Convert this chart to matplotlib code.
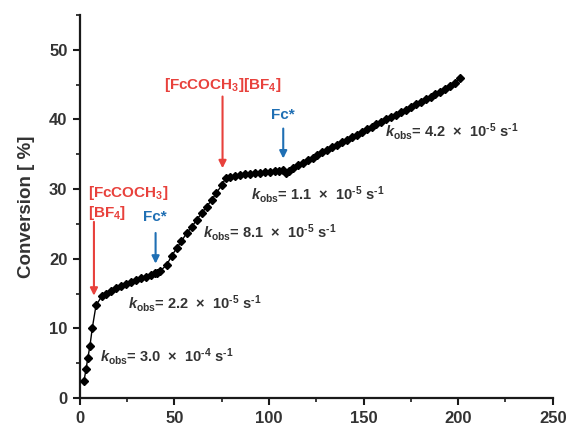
import matplotlib
matplotlib.use("Agg")
import matplotlib.pyplot as plt
from matplotlib.ticker import MultipleLocator

plt.rcParams['font.family'] = ['Liberation Sans', 'DejaVu Sans']
plt.rcParams['mathtext.fontset'] = 'custom'
plt.rcParams['mathtext.rm'] = 'Liberation Sans:bold'
plt.rcParams['mathtext.bf'] = 'Liberation Sans:bold'
plt.rcParams['mathtext.it'] = 'Liberation Sans:bold:italic'

# ---- data ----
time = [2.1, 3.2, 4.2, 5.3, 6.5, 8.5,
        11.5, 14.0, 16.6, 19.2, 21.8, 24.4, 27.0, 29.6, 32.2, 34.8, 37.4, 39.6, 41.0, 42.3,
        45.8, 48.5, 51.1, 53.7, 56.4, 59.0, 61.7, 64.3, 67.0, 69.6, 72.2, 75.2, 77.0,
        79.6, 82.2, 84.8, 87.4, 90.0, 92.6, 95.2, 97.8, 100.4, 103.0, 105.4, 107.5,
        109.0, 110.6,
        112.5, 115.2, 117.8, 120.4, 123.0, 125.6, 128.2, 130.8, 133.4, 136.0, 138.6,
        141.2, 143.8, 146.4, 149.0, 151.6, 154.2, 156.8, 159.4, 162.0, 164.6, 167.2,
        169.8, 172.4, 175.0, 177.6, 180.2, 182.8, 185.4, 188.0, 190.6, 193.2, 195.8,
        198.4, 200.8]
conversion = [2.4, 4.1, 5.8, 7.5, 10.0, 13.3,
              14.6, 15.0, 15.4, 15.8, 16.1, 16.4, 16.7, 16.9, 17.2, 17.4, 17.7, 17.9, 18.0, 18.2,
              19.1, 20.4, 21.5, 22.5, 23.7, 24.5, 25.6, 26.5, 27.5, 28.4, 29.5, 30.6, 31.6,
              31.8, 31.9, 32.0, 32.1, 32.2, 32.3, 32.35, 32.4, 32.5, 32.55, 32.6, 32.7,
              32.3, 32.6,
              33.0, 33.4, 33.8, 34.2, 34.5, 34.9, 35.3, 35.6, 36.0, 36.4, 36.7,
              37.1, 37.5, 37.8, 38.2, 38.6, 38.9, 39.3, 39.6, 40.0, 40.4, 40.7,
              41.1, 41.4, 41.8, 42.2, 42.5, 42.9, 43.3, 43.6, 44.0, 44.4, 44.8,
              45.3, 45.9]

x_ticks = [0, 50, 100, 150, 200, 250]
y_ticks = [0, 10, 20, 30, 40, 50]

def kobs(val, exp):
    return (r"$k_{\mathrm{obs}}$= " + val + "  ×  10$^{\\mathrm{\\text{-" + exp +
            "}}}$ s$^{\\mathrm{\\text{-1}}}$")

kobs_labels = [
    (10.6, 5.9, kobs("3.0", "4")),
    (25.5, 13.6, kobs("2.2", "5")),
    (65.2, 23.7, kobs("8.1", "5")),
    (90.7, 29.2, kobs("1.1", "5")),
    (161.2, 38.3, kobs("4.2", "5")),
]

red = '#e8413c'
blue = '#1f6fb4'
gray = '#333333'

fig = plt.figure(figsize=(5.71, 4.30), dpi=100)
ax = fig.add_axes([0.140, 0.0744, 0.828, 0.8906])

ax.plot(time, conversion, color='black', lw=1.0, marker='D', ms=4.0,
        markerfacecolor='black', markeredgecolor='black', zorder=3)

ax.set_xlim(0, 250)
ax.set_ylim(0, 55)
ax.set_xticks(x_ticks)
ax.set_yticks(y_ticks)
ax.xaxis.set_minor_locator(MultipleLocator(25))
ax.yaxis.set_minor_locator(MultipleLocator(5))
for s in ['top', 'right']:
    ax.spines[s].set_visible(False)
for s in ['left', 'bottom']:
    ax.spines[s].set_linewidth(1.6)
    ax.spines[s].set_color('#1a1a1a')
ax.tick_params(which='major', direction='out', length=5, width=1.5, color='#1a1a1a',
               labelsize=12, labelcolor=gray, pad=4)
ax.tick_params(which='minor', direction='out', length=3, width=1.2, color='#1a1a1a')
for lab in ax.get_xticklabels() + ax.get_yticklabels():
    lab.set_fontweight('bold')

ax.set_ylabel('Conversion [ %]', fontsize=13.5, fontweight='bold', color=gray, labelpad=10)

for x, y, t in kobs_labels:
    ax.text(x, y, t, fontsize=10.5, fontweight='bold', color=gray, ha='left', va='center')

arrow_kw = dict(arrowstyle='-|>', lw=1.5, mutation_scale=11, shrinkA=0, shrinkB=0)

# red annotation 1
ax.text(4.2, 29.5, r"[FcCOCH$_{\mathrm{3}}$]", fontsize=11, fontweight='bold', color=red,
        ha='left', va='center')
ax.text(4.2, 26.6, r"[BF$_{\mathrm{4}}$]", fontsize=11, fontweight='bold', color=red,
        ha='left', va='center')
ax.annotate('', xy=(7.4, 14.7), xytext=(7.4, 25.3),
            arrowprops=dict(color=red, **arrow_kw))

# red annotation 2
ax.text(75.6, 45.0, r"[FcCOCH$_{\mathrm{3}}$][BF$_{\mathrm{4}}$]", fontsize=11,
        fontweight='bold', color=red, ha='center', va='center')
ax.annotate('', xy=(75.4, 33.0), xytext=(75.4, 43.3),
            arrowprops=dict(color=red, **arrow_kw))

# blue annotations
ax.text(39.4, 26.0, 'Fc*', fontsize=11, fontweight='bold', color=blue, ha='center', va='center')
ax.annotate('', xy=(40.0, 19.3), xytext=(40.0, 23.7),
            arrowprops=dict(color=blue, **arrow_kw))
ax.text(107.5, 40.6, 'Fc*', fontsize=11, fontweight='bold', color=blue, ha='center', va='center')
ax.annotate('', xy=(107.5, 34.4), xytext=(107.5, 38.7),
            arrowprops=dict(color=blue, **arrow_kw))

fig.savefig('out.png', dpi=100)
